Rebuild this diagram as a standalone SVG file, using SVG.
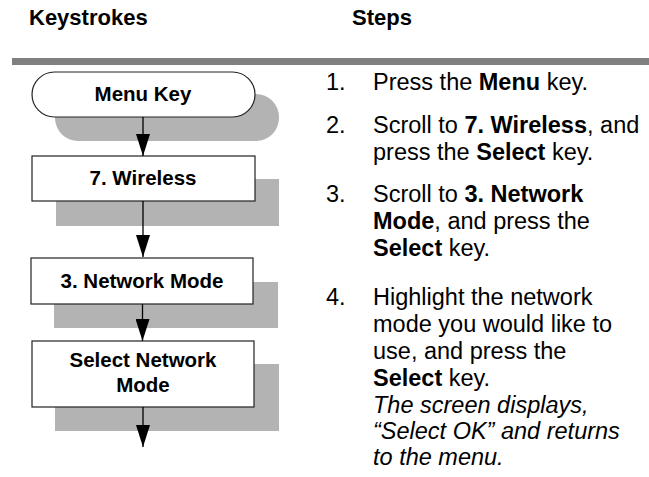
<svg xmlns="http://www.w3.org/2000/svg" width="649" height="477" viewBox="0 0 649 477">
<defs>
<style>
.hdr{font-family:"Liberation Sans",Arial,sans-serif;font-weight:bold;font-size:22px;fill:#000}
.lbl{font-family:"Liberation Sans",Arial,sans-serif;font-weight:bold;font-size:20.5px;fill:#000;text-anchor:middle}
.st{font-family:"Liberation Sans",Arial,sans-serif;font-size:23.5px;fill:#000}
.b{font-weight:bold}
.i{font-style:italic}
.box{fill:#fff;stroke:#222;stroke-width:1.2}
.shd{fill:#b3b3b3}
.con{stroke:#000;stroke-width:1.3;fill:none}
</style>
<marker id="ah" markerUnits="userSpaceOnUse" markerWidth="22" markerHeight="14" refX="22" refY="7" orient="auto">
<path d="M0,0 L22,7 L0,14 Z" fill="#000"/>
</marker>
</defs>
<rect width="649" height="477" fill="#fff"/>
<g id="header">
<text class="hdr" x="29" y="25">Keystrokes</text>
<text class="hdr" x="352" y="25">Steps</text>
<rect x="12" y="58" width="637" height="7" fill="#808080"/>
</g>
<g id="node-menu-key">
<rect class="shd" x="55" y="94" width="224" height="47" rx="23"/>
<rect class="box" x="32" y="72" width="223" height="45" rx="22.5"/>
<text class="lbl" x="143" y="101">Menu Key</text>
</g>
<g id="node-wireless">
<rect class="shd" x="56" y="179" width="223" height="47"/>
<rect class="box" x="32" y="156" width="223" height="45"/>
<text class="lbl" x="143" y="185">7. Wireless</text>
</g>
<g id="node-network-mode">
<rect class="shd" x="54" y="282" width="224" height="46"/>
<rect class="box" x="31" y="258" width="222" height="46"/>
<text class="lbl" x="142" y="288">3. Network Mode</text>
</g>
<g id="node-select-network-mode">
<rect class="shd" x="55" y="364" width="224" height="67"/>
<rect class="box" x="32" y="341" width="222" height="66"/>
<text class="lbl" x="143" y="367">Select Network</text>
<text class="lbl" x="143" y="392">Mode</text>
</g>
<g id="connectors">
<line class="con" x1="143" y1="117" x2="143" y2="156" marker-end="url(#ah)"/>
<line class="con" x1="143" y1="201" x2="143" y2="257" marker-end="url(#ah)"/>
<line class="con" x1="142.5" y1="304" x2="142.5" y2="341" marker-end="url(#ah)"/>
<line class="con" x1="143" y1="407" x2="143" y2="447" marker-end="url(#ah)"/>
</g>
<g id="steps">
<text class="st" x="326" y="90">1.</text>
<text class="st" x="373" y="90">Press the <tspan class="b">Menu</tspan> key.</text>
<text class="st" x="326" y="133">2.</text>
<text class="st" x="373" y="133">Scroll to <tspan class="b">7. Wireless</tspan>, and</text>
<text class="st" x="373" y="160">press the <tspan class="b">Select</tspan> key.</text>
<text class="st" x="326" y="202">3.</text>
<text class="st" x="373" y="202">Scroll to <tspan class="b">3. Network</tspan></text>
<text class="st" x="373" y="229"><tspan class="b">Mode</tspan>, and press the</text>
<text class="st" x="373" y="256"><tspan class="b">Select</tspan> key.</text>
<text class="st" x="326" y="305">4.</text>
<text class="st" x="373" y="305">Highlight the network</text>
<text class="st" x="373" y="332">mode you would like to</text>
<text class="st" x="373" y="359">use, and press the</text>
<text class="st" x="373" y="386"><tspan class="b">Select</tspan> key.</text>
<text class="st i" x="373" y="413">The screen displays,</text>
<text class="st i" x="373" y="439">“Select OK” and returns</text>
<text class="st i" x="373" y="465">to the menu.</text>
</g>
</svg>
